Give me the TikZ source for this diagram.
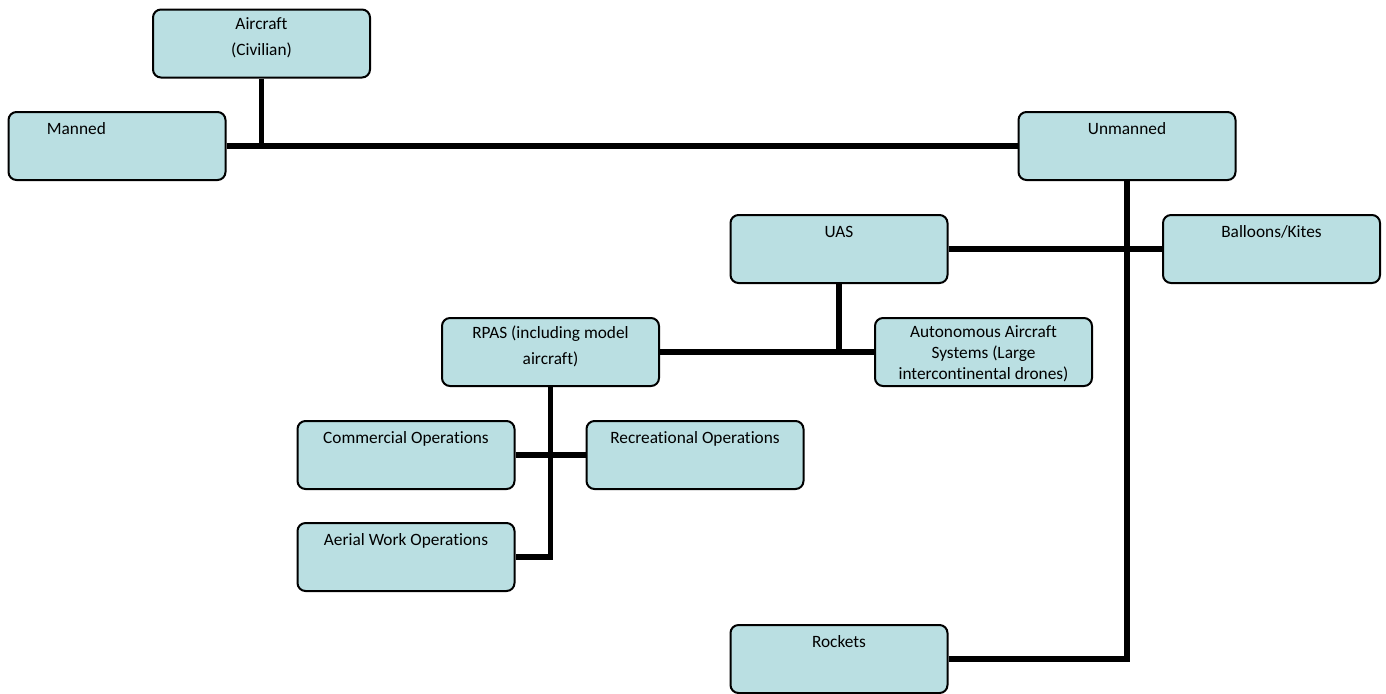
\documentclass[tikz,border=0pt]{standalone}
\usepackage{fontspec}
\setmainfont{Carlito}[Ligatures=NoCommon]
\usetikzlibrary{positioning}
\definecolor{boxfill}{RGB}{186,223,226}

\begin{document}
\begin{tikzpicture}[x=0.5pt, y=-0.5pt,
	box/.style={draw=black, line width=1pt, rounded corners=4pt, fill=boxfill, minimum width=108.5pt, minimum height=34pt, inner sep=0pt},
	boxtext/.style={inner sep=0pt, align=center, font=\fontsize{8.65}{13}\selectfont, execute at begin node={\rule{0pt}{7pt}}},
	link/.style={line width=2.6pt}]
	\useasboundingbox (0,0) rectangle (1386,693);
% draw boxes
	\node[box] (aircraft) at (261.5,43.5) {};
	\node[box] (manned) at (117,146) {};
	\node[box] (unmanned) at (1127,146) {};
	\node[box] (uas) at (839,249) {};
	\node[box] (balloons) at (1271.5,249) {};
	\node[box] (rpas) at (550.5,352) {};
	\node[box] (autonomous) at (983.5,352) {};
	\node[box] (commercial) at (406,455) {};
	\node[box] (recreational) at (695,455) {};
	\node[box] (aerial) at (406,557) {};
	\node[box] (rockets) at (839,659) {};
% draw texts
	\node[boxtext, below=4.3pt of aircraft.north] (aircrafttext) {Aircraft\\(Civilian)};
	\node[boxtext, below right=4.3pt and 19.5pt of manned.north west] (mannedtext) {Manned};
	\node[boxtext, below=4.3pt of unmanned.north] (unmannedtext) {Unmanned};
	\node[boxtext, below=4.3pt of uas.north] (uastext) {UAS};
	\node[boxtext, below=4.3pt of balloons.north] (balloonstext) {Balloons/Kites};
	\node[boxtext, below=4.3pt of rpas.north] (rpastext) {RPAS (including model\\aircraft)};
	\node[boxtext, font=\fontsize{8.65}{10.5}\selectfont, below=4.3pt of autonomous.north] (autonomoustext) {Autonomous Aircraft\\Systems (Large\\intercontinental drones)};
	\node[boxtext, below=4.3pt of commercial.north] (commercialtext) {Commercial Operations};
	\node[boxtext, below=4.3pt of recreational.north] (recreationaltext) {Recreational Operations};
	\node[boxtext, below=4.3pt of aerial.north] (aerialtext) {Aerial Work Operations};
	\node[boxtext, below=4.3pt of rockets.north] (rocketstext) {Rockets};
% draw connectors
	\draw[link] (manned.east) -- (unmanned.west);
	\draw[link] (aircraft.south) -- (aircraft.south |- manned.east);
	\draw[link] (unmanned.south) -- (unmanned.south |- rockets.east) -- (rockets.east);
	\draw[link] (uas.east) -- (balloons.west);
	\draw[link] (rpas.east) -- (autonomous.west);
	\draw[link] (uas.south) -- (uas.south |- rpas.east);
	\draw[link] (rpas.south) -- (rpas.south |- aerial.east) -- (aerial.east);
	\draw[link] (commercial.east) -- (recreational.west);
\end{tikzpicture}
\end{document}
